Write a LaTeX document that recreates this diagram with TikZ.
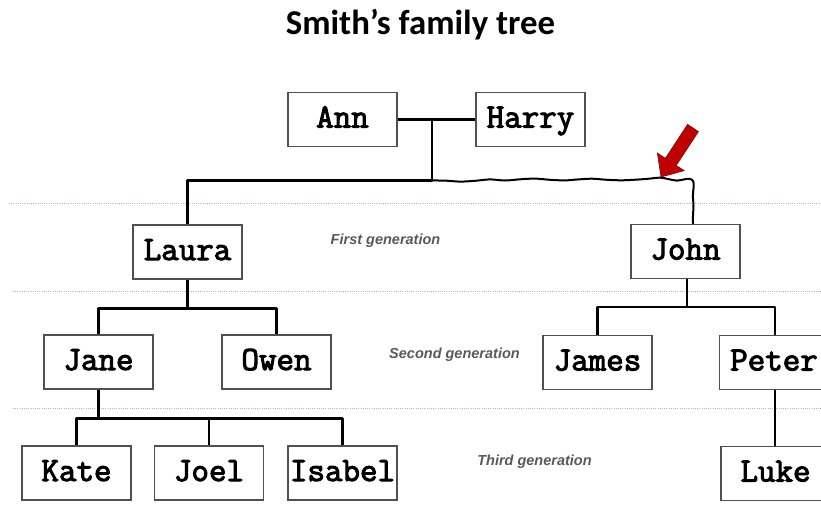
\documentclass[tikz,border=0pt]{standalone}
\usepackage{fontspec}
\setmainfont{Liberation Sans}
\newfontfamily\titlefont{Carlito}
\newfontfamily\boxfont{Latin Modern Mono}[FakeBold=3]
\usetikzlibrary{calc}
\definecolor{boxline}{HTML}{505050}
\definecolor{dotline}{HTML}{C4AEB6}
\definecolor{gentext}{HTML}{595959}
\definecolor{arrowred}{HTML}{C00000}
\definecolor{arrowdark}{HTML}{8A0000}
\tikzset{
  person/.style={draw=boxline, line width=1.2pt, fill=white, minimum width=109pt, minimum height=54pt,
    inner sep=0pt, text height=20pt, text depth=4pt, font=\boxfont\fontsize{34}{36}\selectfont},
  link/.style={line width=2.3pt, black, line join=round},
  genline/.style={dotline, line width=1pt, dash pattern=on 1pt off 1.2pt},
  genlabel/.style={text=gentext, font=\bfseries\itshape\fontsize{14.5}{16}\selectfont, inner sep=0pt},
}
\begin{document}
\begin{tikzpicture}[x=1pt,y=-1pt]
\useasboundingbox (0,0) rectangle (821,520);
\clip (0,0) rectangle (821,520);
% title
\node[font=\titlefont\bfseries\fontsize{34.8}{38}\selectfont, inner sep=0pt] (title) at (420.5,25) {Smith’s family tree};
% generation separators
\coordinate (g1a) at (9,203); \coordinate (g1b) at (821,203);
\coordinate (g2a) at (13,291); \coordinate (g2b) at (821,291);
\coordinate (g3a) at (13,408); \coordinate (g3b) at (821,408);
\draw[genline] (g1a) -- (g1b);
\draw[genline] (g2a) -- (g2b);
\draw[genline] (g3a) -- (g3b);
% labels
\node[genlabel] (l1) at (385.5,241) {First generation};
\node[genlabel] (l2) at (454.5,355) {Second generation};
\node[genlabel] (l3) at (534.5,462) {Third generation};
% people
\node[person] (ann) at (342.5,119.5) {Ann};
\node[person] (harry) at (530.5,119.5) {Harry};
\node[person] (laura) at (187.5,252) {Laura};
\node[person] (john) at (685.5,251.5) {John};
\node[person] (jane) at (98.5,362) {Jane};
\node[person] (owen) at (276.5,362) {Owen};
\node[person] (james) at (597.5,362.5) {James};
\node[person] (peter) at (774,362.5) {Peter};
\node[person] (kate) at (76.5,473) {Kate};
\node[person] (joel) at (209,473) {Joel};
\node[person] (isabel) at (342.5,473) {Isabel};
\node[person] (luke) at (775.5,473.5) {Luke};
% couple link
\draw[link] (ann.east) -- (harry.west);
\coordinate (couple) at ($(ann.east)!0.443!(harry.west)$);
\coordinate (junc) at ($(couple)+(0,61)$);
\draw[link] (couple) -- (junc) -| (laura.north);
% wavy line to John
\coordinate (jtop) at ($(john.north)+(7.5,0)$);
\draw[link, line width=2pt] plot[smooth, tension=0.55] coordinates {
  (junc) (445,180.6) (460,181.6) (475,180.8) (490,179.4) (505,180.5) (520,179.3)
  (535,178.6) (550,179.8) (565,180.4) (577,179.5) (592,178.7) (607,179.8)
  (622,180.3) (637,179.6) (650,178.6) (660,177.6) (669,179.2) (677,180.6)
  (685,179.2) (690,178.8) (693.3,181.5) (693.6,187) (692.9,196) (693.5,206)
  (693,215) (jtop)};
% Laura's children
\coordinate (lj) at ($(laura.south)+(0,29)$);
\draw[link] (laura.south) -- (lj);
\draw[link] (jane.north) -- (jane.north |- lj) -- (owen.north |- lj) -- (owen.north);
% John's children
\coordinate (jj) at ($(john.south)+(1.5,28)$);
\draw[link] (john.south -| jj) -- (jj);
\draw[link] (james.north) -- (james.north |- jj) -- ($(peter.north |- jj)+(1,0)$) -- ($(peter.north)+(1,0)$);
% Jane's children
\coordinate (jk) at ($(jane.south)+(0,29)$);
\draw[link] (jane.south) -- (jk);
\draw[link] (kate.north) -- (kate.north |- jk) -- (isabel.north |- jk) -- (isabel.north);
\draw[link] (joel.north |- jk) -- (joel.north);
% Peter's child
\draw[link] ($(peter.south)+(1,0)$) -- ($(luke.north)+(-0.5,0)$);
% red arrow
\fill[arrowred, draw=arrowdark, line width=0.6pt, line join=miter]
  (661,177) coordinate (arrtip) -- (684.2,170.6) -- (676.2,165.5) -- (698.4,131.6)
  -- (687.6,124.4) -- (665.4,158.3) -- (657.4,153.1) -- cycle;
\end{tikzpicture}
\end{document}
